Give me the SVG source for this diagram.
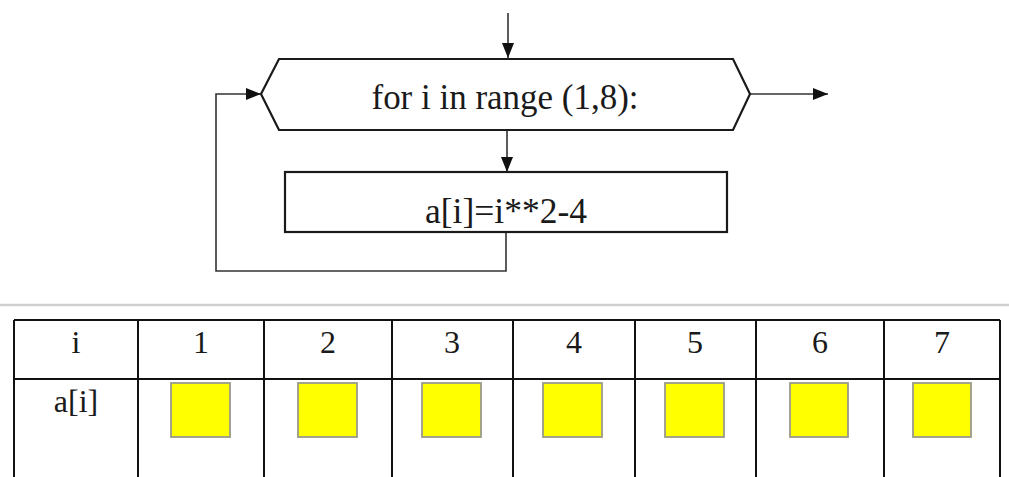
<svg xmlns="http://www.w3.org/2000/svg" width="1009" height="477" viewBox="0 0 1009 477">
<style>
.shape{fill:#fff;stroke:#1a1a1a;stroke-width:2.2}
.conn{fill:none;stroke:#333;stroke-width:1.6}
.t{font-family:'Liberation Serif','Tinos','Times New Roman','DejaVu Serif','Noto Serif',serif;fill:#1a1a1a;text-anchor:middle}
.big{font-size:35px}
.cell{font-size:32px}
.grid{stroke:#111;stroke-width:2;fill:none}
.sq{fill:#ffff00;stroke:#9a9a8a;stroke-width:1.8}
</style>
<defs>
<marker id="ah" markerUnits="userSpaceOnUse" markerWidth="16" markerHeight="13" refX="15" refY="6" orient="auto">
<path d="M0,0 L15,6 L0,12 z" fill="#111"/>
</marker>
</defs>
<rect width="1009" height="477" fill="#fff"/>
<g id="connectors">
<line class="conn" x1="508" y1="13" x2="508" y2="58" marker-end="url(#ah)"/>
<line class="conn" x1="507" y1="131" x2="507" y2="172" marker-end="url(#ah)"/>
<line class="conn" x1="750" y1="94" x2="828" y2="94" marker-end="url(#ah)"/>
<polyline class="conn" points="506,232 506,271 216,271 216,94 261,94" marker-end="url(#ah)"/>
</g>
<g id="loop">
<polygon class="shape" points="279,59 733,59 750,94 733,130 279,130 261,94"/>
<text class="t big" x="505" y="109" textLength="267" lengthAdjust="spacingAndGlyphs">for i in range (1,8):</text>
</g>
<g id="assign">
<rect class="shape" x="285" y="172" width="442" height="60"/>
<text class="t big" x="506" y="223" textLength="162" lengthAdjust="spacingAndGlyphs">a[i]=i**2-4</text>
</g>
<g id="table">
<line x1="0" y1="305" x2="1009" y2="305" stroke="#cfcfcf" stroke-width="2.5"/>
<path class="grid" d="M14,320 H1000 M14,379 H1000 M14,320 V477 M138,320 V477 M264,320 V477 M392,320 V477 M513,320 V477 M635,320 V477 M756,320 V477 M884,320 V477 M1000,320 V477"/>
<text class="t cell" x="76" y="353">i</text>
<text class="t cell" x="201" y="353">1</text>
<text class="t cell" x="328" y="353">2</text>
<text class="t cell" x="452" y="353">3</text>
<text class="t cell" x="574" y="353">4</text>
<text class="t cell" x="695" y="353">5</text>
<text class="t cell" x="820" y="353">6</text>
<text class="t cell" x="942" y="353">7</text>
<text class="t cell" x="76" y="412">a[i]</text>
<rect class="sq" x="171" y="383" width="59" height="54"/>
<rect class="sq" x="298" y="383" width="59" height="54"/>
<rect class="sq" x="422" y="383" width="59" height="54"/>
<rect class="sq" x="543" y="383" width="59" height="54"/>
<rect class="sq" x="665" y="383" width="59" height="54"/>
<rect class="sq" x="790" y="383" width="58" height="54"/>
<rect class="sq" x="913" y="383" width="58" height="54"/>
</g>
</svg>
